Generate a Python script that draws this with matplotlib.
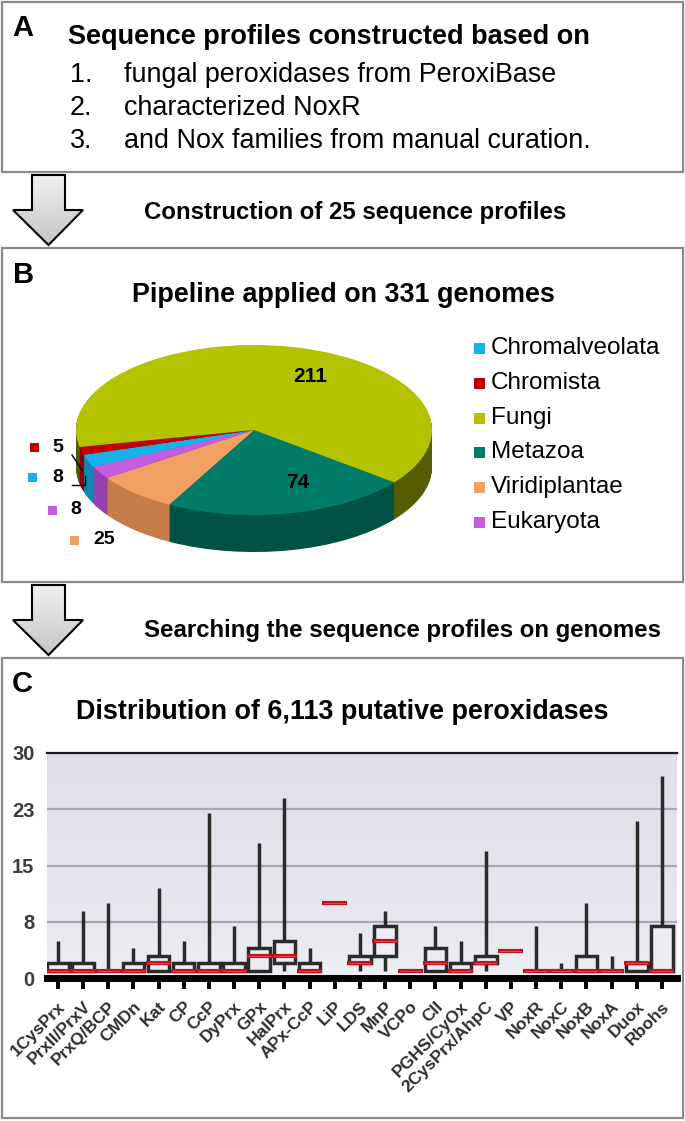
import numpy as np
import matplotlib
matplotlib.use("Agg")
import matplotlib.pyplot as plt
from matplotlib.patches import Rectangle, Polygon
from matplotlib.colors import LinearSegmentedColormap

plt.rcParams["font.family"] = ["Liberation Sans", "DejaVu Sans"]

W, H = 685, 1121

# ---------------------------------------------------------------- data
profile_sources = ["fungal peroxidases from PeroxiBase",
                   "characterized NoxR",
                   "and Nox families from manual curation."]

groups = ["Chromalveolata", "Chromista", "Fungi", "Metazoa", "Viridiplantae", "Eukaryota"]
genomes = [8, 5, 211, 74, 25, 8]
top_colors = ["#17b1e9", "#c20000", "#b4c300", "#007c68", "#f1a062", "#c45ce0"]
side_colors = ["#0f86b3", "#8c0000", "#565d00", "#005244", "#c67c47", "#9640b0"]
pie_order = [3, 4, 5, 0, 1, 2]          # clockwise from the Metazoa/Fungi edge

families = ["1CysPrx", "PrxII/PrxV", "PrxQ/BCP", "CMDn", "Kat", "CP", "CcP", "DyPrx",
            "GPx", "HalPrx", "APx-CcP", "LiP", "LDS", "MnP", "VCPo", "CII", "PGHS/CyOx",
            "2CysPrx/AhpC", "VP", "NoxR", "NoxC", "NoxB", "NoxA", "Duox", "Rbohs"]
whislo = [1, 1, 1, 1, 1, 1, 1, 1, 1, 1, 1, 10, 1, 1, 1, 1, 1, 1, 3.6, 1, 1, 1, 1, 1, 1]
q1 = [1, 1, 1, 1, 1, 1, 1, 1, 1, 2, 1, 10, 2, 3, 1, 1, 1, 2, 3.6, 1, 1, 1, 1, 1, 1]
med = [1, 1, 1, 1, 2, 1, 1, 1, 3, 3, 1, 10, 2, 5, 1, 2, 1, 2, 3.6, 1, 1, 1, 1, 2, 1]
q3 = [2, 2, 1, 2, 3, 2, 2, 2, 4, 5, 2, 10, 3, 7, 1, 4, 2, 3, 3.6, 1, 1, 3, 1, 2, 7]
whishi = [5, 9, 10, 4, 12, 5, 22, 7, 18, 24, 4, 10, 6, 9, 1, 7, 5, 17, 3.9, 7, 2, 10, 3, 21, 27]
ytick_vals = [0, 7.5, 15, 22.5, 30]
ytick_labels = ["0", "8", "15", "23", "30"]


def px_rect(l, t, r, b):
    return [l / W, 1 - b / H, (r - l) / W, (b - t) / H]


fig = plt.figure(figsize=(W / 100, H / 100), dpi=100)

# ---------------------------------------------------------------- panel C box plot
bax = fig.add_axes(px_rect(47, 753, 677, 978))
x = np.arange(len(families))
q1a, q3a, meda = np.array(q1), np.array(q3), np.array(med)
bg = LinearSegmentedColormap.from_list("bg", ["#f1f1f5", "#e7e7ef", "#e0e0ea"])
bax.imshow(np.linspace(0, 1, 100)[:, None] ** 0.5, cmap=bg, aspect="auto",
           extent=(-0.43, 24.6, 30, 0), origin="upper", zorder=0)
bax.vlines(x, q3a, whishi, color="#2b2b2b", lw=2.5, zorder=2)
bax.vlines(x, whislo, q1a, color="#2b2b2b", lw=2.5, zorder=2)
hb = q3a > q1a
bax.bar(x[hb], (q3a - q1a)[hb], bottom=q1a[hb], width=0.86, facecolor="#ececf2",
        edgecolor="#2b2b2b", linewidth=2.5, zorder=3)
bax.hlines(meda, x - 0.5, x + 0.5, color="#c4121c", lw=3.0, zorder=4)
bax.hlines(meda, x - 0.42, x + 0.42, color="#e0444c", lw=0.8, zorder=5)
bax.set_xlim(-0.43, 24.6)
bax.set_ylim(0, 30)
bax.set_yticks(ytick_vals)
bax.set_yticklabels(ytick_labels, fontsize=14.5, fontweight="bold", color="#3c3c3c")
bax.tick_params(axis="y", length=0, pad=9)
bax.set_xticks(x)
bax.set_xticklabels(families, rotation=45, ha="right", va="top", rotation_mode="anchor",
                    fontsize=12.5, fontweight="bold", color="#2e2e2e")
bax.tick_params(axis="x", length=8, width=2.8, color="black", pad=7)
bax.grid(axis="y", color="#a8a8b2", lw=1.6)
bax.set_axisbelow(True)
for s in ("left", "right"):
    bax.spines[s].set_visible(False)
bax.spines["top"].set_color("#1a1a1a")
bax.spines["top"].set_linewidth(1.6)
bax.spines["bottom"].set_color("black")
bax.spines["bottom"].set_linewidth(5)

# ---------------------------------------------------------------- panel B 3-D pie
cx, cy, ra, rb = 254, 430, 178, 85
pl, pt, pr, pb = 60, 335, 450, 560
pax = fig.add_axes(px_rect(pl, pt, pr, pb))
vals = [genomes[i] for i in pie_order]
depth = 37 / rb
for d in np.linspace(depth, 0, 60)[:-1]:
    pax.pie(vals, colors=[side_colors[i] for i in pie_order], startangle=-38,
            counterclock=False, center=(0, -d), wedgeprops=dict(linewidth=0))
pax.pie(vals, colors=[top_colors[i] for i in pie_order], startangle=-38,
        counterclock=False, wedgeprops=dict(linewidth=0))
pax.set_aspect("auto")
pax.set_xlim((pl - cx) / ra, (pr - cx) / ra)
pax.set_ylim((cy - pb) / rb, (cy - pt) / rb)
pax.axis("off")

# ---------------------------------------------------------------- overlay (boxes, arrows, text)
ov = fig.add_axes([0, 0, 1, 1], zorder=10)
ov.set_xlim(0, W)
ov.set_ylim(H, 0)
ov.axis("off")
ov.patch.set_alpha(0)

for (t, b) in [(2, 172), (248, 582), (658, 1118)]:
    ov.add_patch(Rectangle((2, t), 681, b - t, fill=False, edgecolor="#8a8a8a", lw=1.6))

grad = LinearSegmentedColormap.from_list("arr", ["#efefef", "#c6c6c6"])
for top in (175, 585):
    pts = [(32, top), (65, top), (65, top + 35), (83, top + 35), (48.5, top + 70),
           (13, top + 35), (32, top + 35)]
    poly = Polygon(pts, closed=True, facecolor="none", edgecolor="black", lw=1.5, zorder=3)
    ov.add_patch(poly)
    im = ov.imshow(np.linspace(0, 1, 50)[:, None], cmap=grad, aspect="auto",
                   extent=(13, 83, top + 70, top), zorder=2)
    im.set_clip_path(poly)
ov.set_xlim(0, W)
ov.set_ylim(H, 0)

# panel A
ov.text(12, 28, "A", fontsize=21, fontweight="bold", va="center")
ov.text(68, 37, "Sequence profiles constructed based on", fontsize=19.5, fontweight="bold",
        va="center")
for i, (yy, s) in enumerate(zip([75, 108, 141], profile_sources)):
    ov.text(70, yy, f"{i + 1}.", fontsize=19.4, va="center")
    ov.text(124, yy, s, fontsize=19.4, va="center")
ov.text(144, 212, "Construction of 25 sequence profiles", fontsize=17.3, fontweight="bold",
        va="center")

# panel B
ov.text(13, 275, "B", fontsize=21, fontweight="bold", va="center")
ov.text(343, 295, "Pipeline applied on 331 genomes", fontsize=19.4, fontweight="bold",
        ha="center", va="center")
for yy, g, c in zip([348, 383, 418, 452, 487, 522], groups, top_colors):
    ov.add_patch(Rectangle((474, yy - 5.5), 11, 11, color=c, lw=0))
    ov.text(491, yy, g, fontsize=17.5, va="center")
ov.text(310, 377, str(genomes[2]), fontsize=15, fontweight="bold", ha="center", va="center")
ov.text(298, 482, str(genomes[3]), fontsize=15, fontweight="bold", ha="center", va="center")
for (sx, sy, tx), gi in zip([(35, 447, 52), (33, 477, 52), (53, 510, 70), (75, 540, 93)],
                            [1, 0, 5, 4]):
    ov.add_patch(Rectangle((sx - 4.5, sy - 4.5), 9, 9, color=top_colors[gi], lw=0))
    ov.text(tx, sy, str(genomes[gi]), fontsize=14, fontweight="bold", va="center")
ov.plot([72, 82], [455, 470], color="black", lw=1)
ov.plot([72, 85, 85], [485, 485, 476], color="black", lw=1)

# arrow 2 text and panel C
ov.text(144, 630, "Searching the sequence profiles on genomes", fontsize=17.3,
        fontweight="bold", va="center")
ov.text(12, 684, "C", fontsize=21, fontweight="bold", va="center")
ov.text(342, 712, "Distribution of 6,113 putative peroxidases", fontsize=19.4,
        fontweight="bold", ha="center", va="center")

fig.savefig("out.png", dpi=100)
